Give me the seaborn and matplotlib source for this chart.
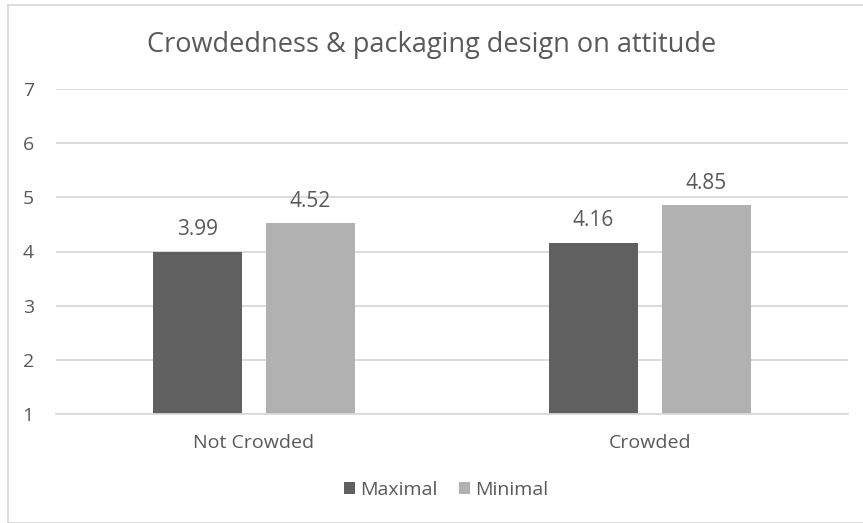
import matplotlib
matplotlib.use("Agg")
import matplotlib.pyplot as plt
import seaborn as sns
import pandas as pd
from matplotlib.patches import Rectangle

categories = ["Not Crowded", "Crowded"]
series_names = ["Maximal", "Minimal"]
maximal = [3.99, 4.16]
minimal = [4.52, 4.85]
yticks = [1, 2, 3, 4, 5, 6, 7]
title = "Crowdedness & packaging design on attitude"

df = pd.DataFrame({
    "crowd": categories * 2,
    "design": [series_names[0]] * 2 + [series_names[1]] * 2,
    "value": maximal + minimal,
})

sns.set_theme(style="white")
plt.rcParams["font.family"] = ["Open Sans", "DejaVu Sans"]
TXT = "#595959"

fig = plt.figure(figsize=(8.63, 5.23), dpi=100)
fig.patch.set_facecolor("white")
ax = fig.add_axes([56 / 863, 109 / 523, 792 / 863, 325 / 523])

palette = {"Maximal": "#606060", "Minimal": "#B1B1B1"}
sns.barplot(data=df, x="crowd", y="value", hue="design", order=categories,
            hue_order=series_names, palette=palette, width=0.571, gap=0.21,
            saturation=1, ax=ax, legend=True, linewidth=0)

ax.set_ylim(1, 7)
ax.set_yticks(yticks)
ax.set_xlim(-0.5, 1.5)
ax.yaxis.grid(True, color="#D9D9D9", linewidth=1.3)
ax.set_axisbelow(True)
for s in ["top", "right", "left"]:
    ax.spines[s].set_visible(False)
ax.spines["bottom"].set_color("#D9D9D9")
ax.spines["bottom"].set_linewidth(1.3)
ax.tick_params(axis="both", length=0, colors=TXT, labelsize=14)
ax.tick_params(axis="y", pad=16)
ax.tick_params(axis="x", pad=14.5)
ax.set_xlabel("")
ax.set_ylabel("")

for c in ax.containers:
    ax.bar_label(c, fmt="%.2f", padding=8.5, color=TXT, fontsize=15)

fig.text(0.5, 1 - 52 / 523, title, ha="center", va="baseline", color=TXT, fontsize=19.5)

h, l = ax.get_legend_handles_labels()
ax.legend(h, l, loc="center", bbox_to_anchor=(446 / 863, 1 - 490 / 523),
          bbox_transform=fig.transFigure, ncol=2, frameon=False,
          handlelength=0.6, handleheight=0.6, handletextpad=0.25, columnspacing=1.1,
          labelcolor=TXT, fontsize=14)

fig.patches.append(Rectangle((8 / 863, 0), 860 / 863, 518 / 523, transform=fig.transFigure,
                             fill=False, edgecolor="#D9D9D9", linewidth=1.3))

fig.savefig("out.png", dpi=100, facecolor="white")
